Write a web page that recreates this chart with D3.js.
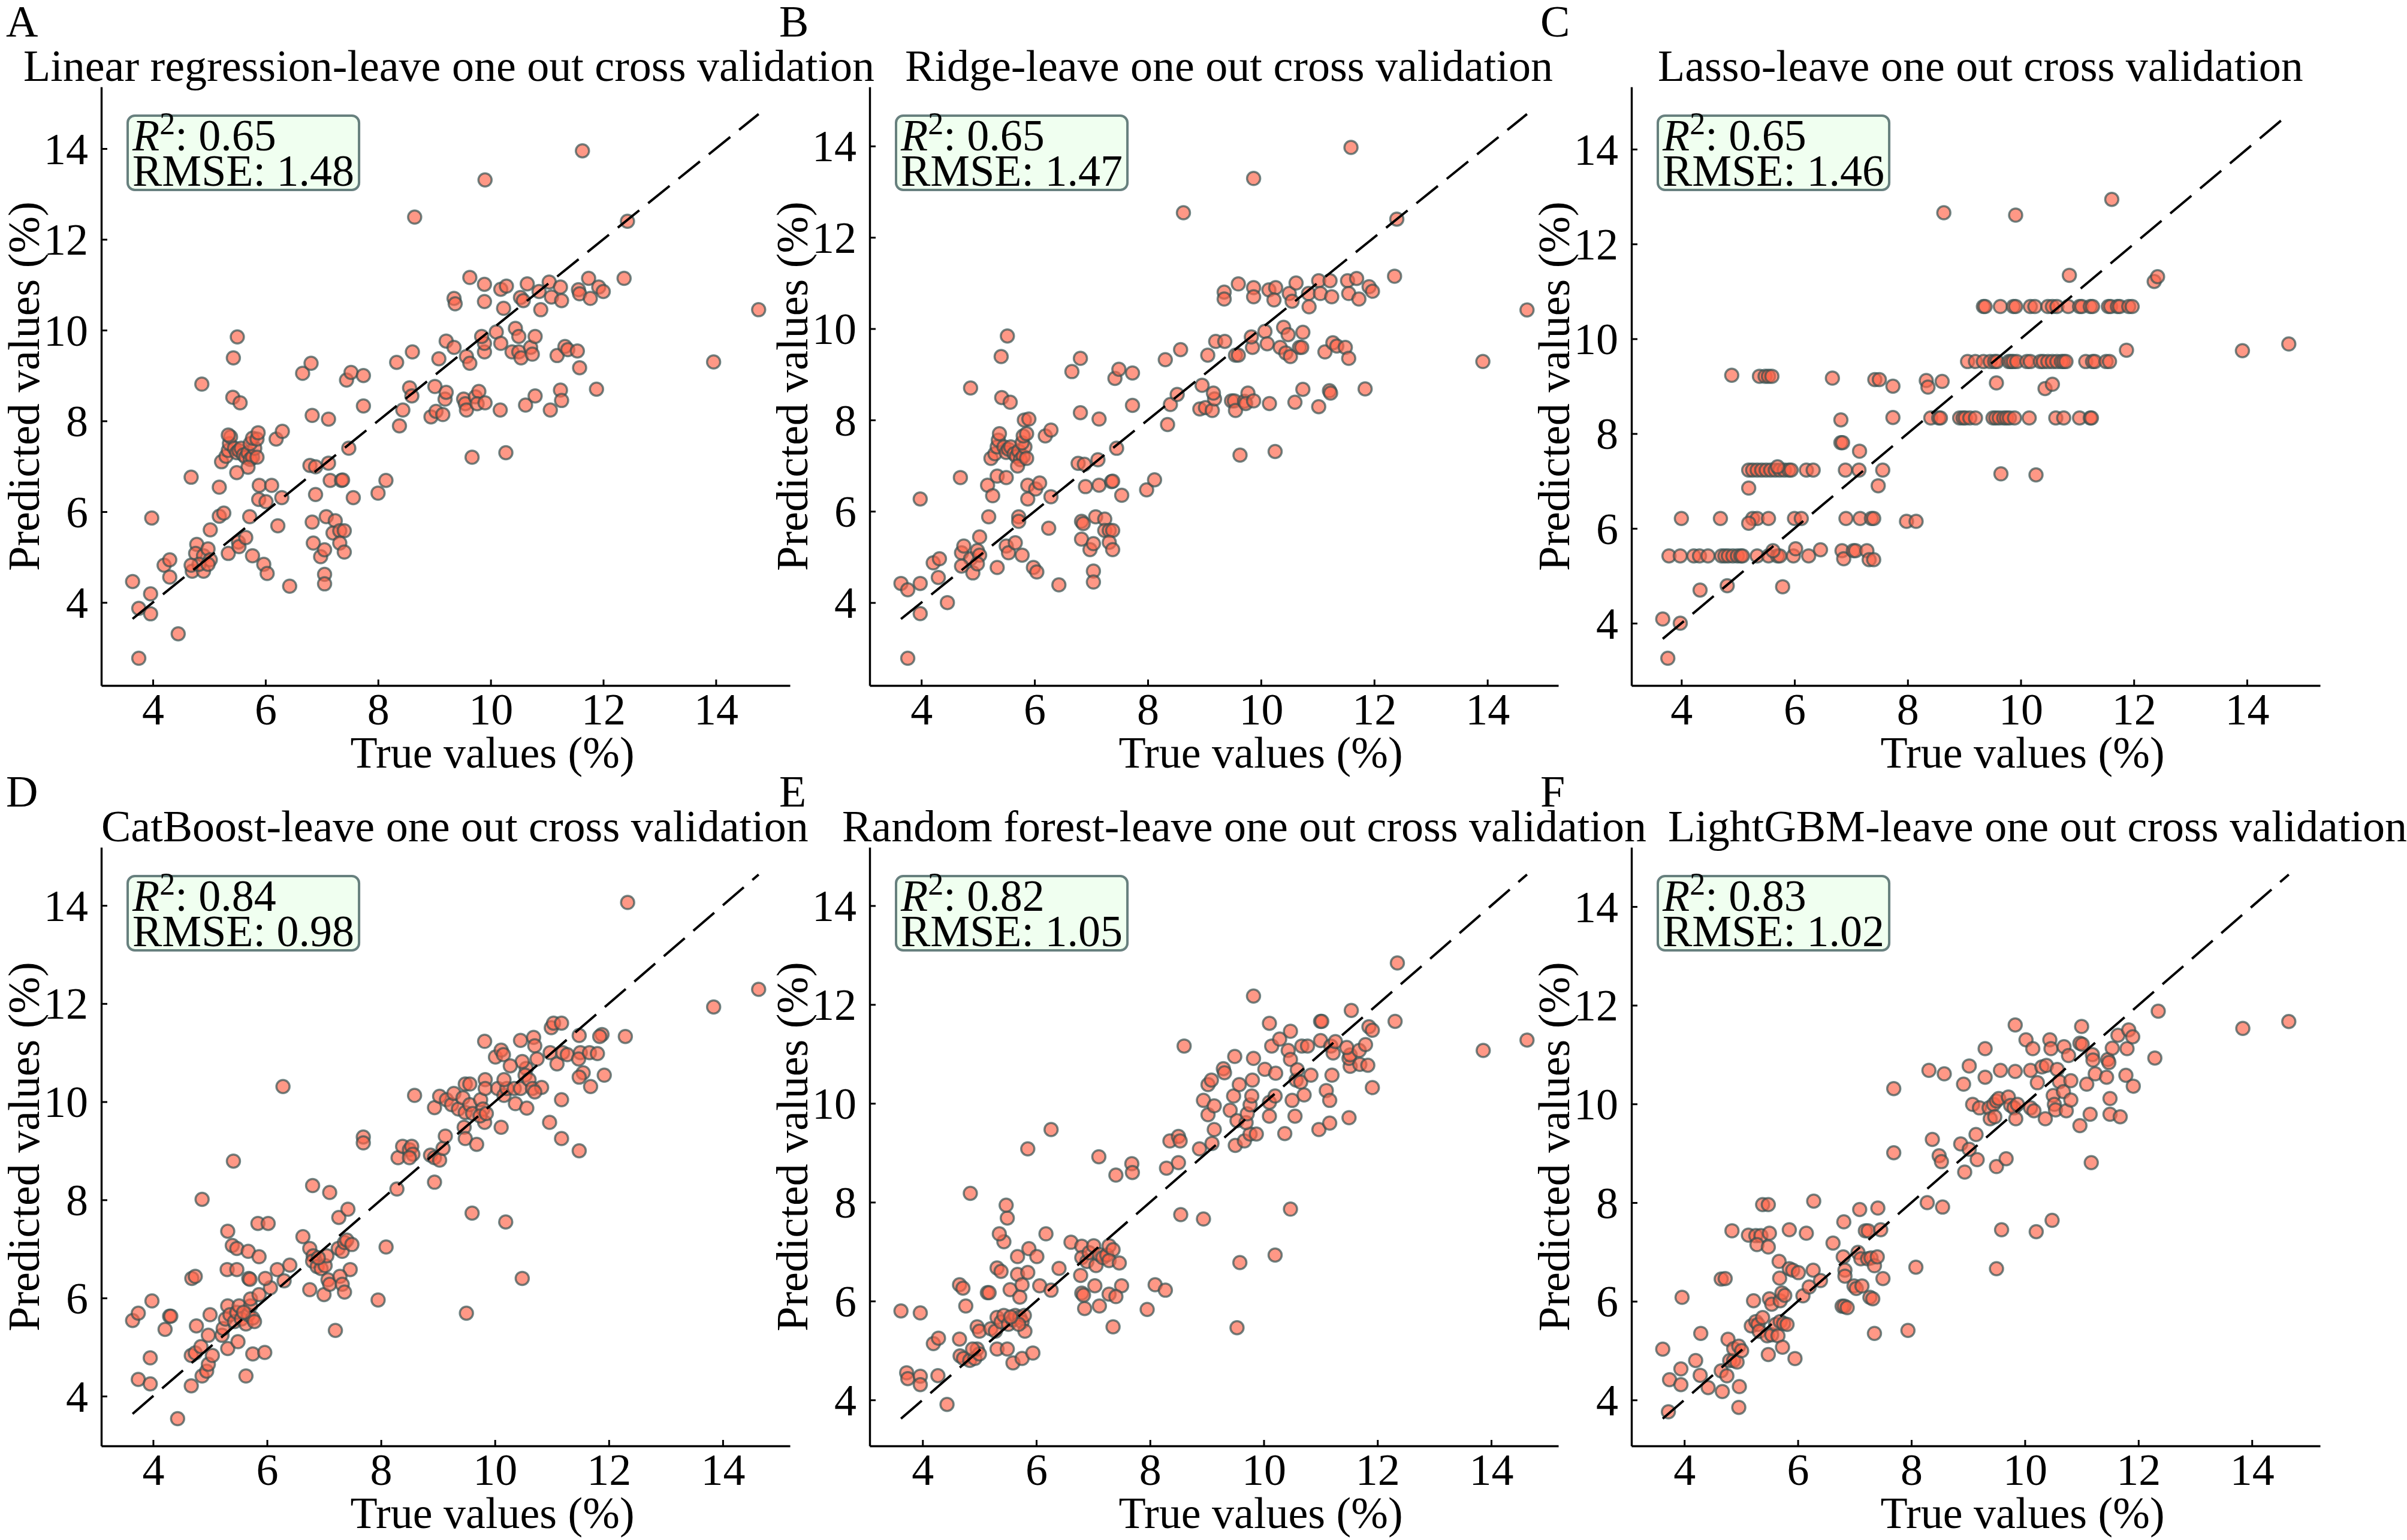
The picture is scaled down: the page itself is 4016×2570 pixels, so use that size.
<!DOCTYPE html>
<html>
<head>
<meta charset="utf-8">
<script src="https://cdn.jsdelivr.net/npm/d3@7"></script>
<style>
  body { margin: 0; background: #fff; }
  svg { display: block; }
</style>
</head>
<body>
<div id="chart"></div>
<script>
// [true value, predicted value] pairs
const linearPts = [
  [3.64,4.46],[3.75,3.87],[3.75,2.77],[3.96,4.19],[3.96,3.75],[3.98,5.86],[4.20,4.82],[4.30,4.94],[4.30,4.56],[4.45,3.31],[4.68,6.76],[4.70,4.69],
  [4.78,5.28],[4.76,5.08],[4.90,5.03],[4.98,5.18],[5.02,4.94],[4.90,4.69],[4.82,4.84],[4.98,4.84],[4.68,4.82],
  [4.87,8.81],[5.02,5.60],[5.18,5.90],[5.26,5.97],[5.18,6.54],[5.34,5.08],
  [5.22,7.10],[5.30,7.22],[5.34,7.35],[5.36,7.50],[5.38,7.65],[5.45,7.40],[5.49,7.30],[5.53,7.35],[5.57,7.40],[5.61,7.25],[5.65,7.20],[5.69,7.30],
  [5.73,7.15],[5.77,7.20],[5.81,7.40],[5.73,7.50],[5.77,7.62],[5.85,7.60],[5.69,6.98],[5.85,7.20],[5.34,7.69],[5.87,7.74],
  [5.42,8.52],[5.43,9.39],[5.50,9.85],[5.55,8.40],[5.49,6.86],[5.52,5.33],[5.53,5.23],[5.65,5.43],[5.72,5.89],[5.77,5.03],[5.89,6.58],[5.88,6.27],
  [5.97,4.84],[6.03,4.64],[6.01,6.22],[6.11,6.58],[6.19,7.60],[6.29,6.31],[6.30,7.77],[6.22,5.69],[6.43,4.36],
  [6.66,9.05],[6.81,9.27],[6.79,7.02],[6.83,8.12],[6.89,6.99],[6.89,6.38],[6.83,5.77],[6.85,5.31],[6.98,5.01],[7.05,5.16],[7.05,4.62],[7.05,4.41],
  [7.08,5.89],[7.12,8.04],[7.12,7.07],[7.15,6.69],[7.24,5.80],[7.20,5.53],[7.32,5.58],[7.35,6.69],[7.37,6.70],[7.40,5.58],[7.32,5.31],[7.40,5.11],
  [7.44,8.90],[7.52,9.07],[7.48,7.40],[7.56,6.31],[7.74,9.00],[7.74,8.33],
  [8.00,6.41],[8.14,6.69],[8.33,9.29],[8.38,7.89],[8.44,8.24],[8.56,8.73],[8.60,8.55],[8.61,9.52],[8.65,12.49],
  [9.01,8.76],[8.94,8.09],[9.03,8.21],[9.08,9.37],[9.15,8.14],[9.19,8.48],[9.21,8.63],[9.21,9.76],[9.35,9.62],[9.35,10.70],[9.37,10.58],
  [9.52,8.48],[9.55,8.38],[9.57,8.24],[9.57,9.42],[9.63,9.27],[9.63,11.16],[9.67,7.20],[9.73,8.53],[9.79,8.65],[9.76,8.38],[9.90,8.40],
  [9.90,13.31],[9.89,9.52],[9.89,9.71],[9.84,9.86],[9.89,11.01],[9.89,10.63],
  [10.10,9.96],[10.18,9.71],[10.17,8.24],[10.18,10.90],[10.28,10.97],[10.23,10.48],[10.27,7.30],[10.38,9.52],[10.44,10.04],[10.50,9.86],
  [10.50,9.52],[10.54,9.39],[10.53,10.72],[10.58,10.65],[10.62,8.35],[10.65,11.02],[10.71,9.62],[10.79,9.86],[10.74,9.47],[10.79,8.55],
  [10.86,10.85],[10.89,10.45],
  [11.04,11.06],[11.08,10.73],[11.06,8.24],[11.18,9.44],[11.24,10.95],[11.26,10.65],[11.24,8.68],[11.26,8.45],[11.32,9.64],[11.37,9.57],
  [11.56,10.89],[11.58,10.80],[11.54,9.54],[11.58,9.17],[11.63,13.95],[11.74,11.14],[11.77,10.70],[11.88,8.70],[11.92,10.95],[12.00,10.85],
  [12.37,11.14],[12.43,12.40],[13.96,9.30],[14.76,10.45]
];

const ridgePts = [
  [3.64,4.42],[3.76,4.28],[3.76,2.78],[3.98,4.42],[3.98,3.76],[3.98,6.27],[4.21,4.87],[4.32,4.96],[4.30,4.55],[4.46,4.00],[4.69,6.74],[4.87,8.70],
  [4.71,5.09],[4.75,5.24],[4.87,4.96],[4.99,5.14],[5.03,5.04],[4.91,4.65],[4.71,4.80],[4.99,4.85],
  [5.03,5.44],[5.19,5.88],[5.17,6.57],[5.26,6.34],[5.34,4.77],
  [5.23,7.16],[5.30,7.26],[5.34,7.41],[5.36,7.56],[5.38,7.70],[5.46,7.41],[5.50,7.29],[5.54,7.36],[5.58,7.41],[5.64,7.26],[5.68,7.20],[5.72,7.32],
  [5.75,7.13],[5.80,7.20],[5.83,7.41],[5.78,7.50],[5.80,7.65],[5.86,7.70],[5.70,6.99],[5.86,7.16],
  [5.42,8.49],[5.41,9.39],[5.52,9.84],[5.57,8.39],[5.34,6.77],[5.50,6.74],[5.50,5.24],[5.54,5.09],[5.66,5.31],[5.72,5.88],[5.72,5.78],[5.78,5.04],
  [5.82,8.00],[5.90,8.02],[5.88,6.57],[5.88,6.27],[5.98,4.77],[6.04,4.67],[6.02,6.49],[6.09,6.62],[6.19,7.65],[6.29,6.32],[6.29,7.78],[6.25,5.63],[6.43,4.39],
  [6.66,9.06],[6.81,9.35],[6.77,7.05],[6.81,8.16],[6.88,7.03],[6.90,6.54],[6.83,5.78],[6.86,5.73],[6.83,5.39],[6.98,5.16],[7.04,5.29],[7.04,4.69],
  [7.04,4.45],[7.08,5.88],[7.14,8.02],[7.12,7.13],[7.14,6.57],[7.24,5.83],[7.24,5.58],[7.32,5.58],[7.36,6.65],[7.38,6.66],[7.38,5.58],[7.32,5.32],
  [7.38,5.16],[7.42,8.91],[7.49,9.11],[7.45,7.38],[7.54,6.35],[7.73,9.03],[7.73,8.32],
  [7.98,6.47],[8.12,6.69],[8.31,9.32],[8.35,7.90],[8.40,8.34],[8.52,8.56],[8.58,9.54],[8.63,12.54],
  [8.96,8.76],[8.92,8.24],[9.02,8.27],[9.06,9.42],[9.14,8.21],[9.18,8.46],[9.16,8.59],[9.20,9.72],[9.36,9.72],[9.35,10.80],[9.35,10.65],
  [9.48,8.42],[9.53,8.42],[9.55,8.21],[9.55,9.42],[9.60,9.42],[9.60,10.98],[9.63,7.23],[9.71,8.41],[9.77,8.59],[9.73,8.36],[9.87,8.42],
  [9.87,13.29],[9.85,9.59],[9.83,9.82],[9.87,10.90],[9.87,10.70],
  [10.07,9.94],[10.11,9.67],[10.15,8.36],[10.14,10.85],[10.26,10.90],[10.23,10.63],[10.25,7.31],[10.34,9.59],[10.40,10.03],[10.48,9.87],
  [10.44,9.47],[10.52,9.39],[10.50,10.77],[10.55,10.60],[10.60,8.39],[10.62,11.00],[10.68,9.59],[10.74,9.92],[10.72,9.59],[10.74,8.67],
  [10.84,10.77],[10.85,10.48],
  [11.02,11.05],[11.05,10.77],[11.02,8.29],[11.13,9.49],[11.22,11.05],[11.25,10.70],[11.21,8.64],[11.23,8.59],[11.27,9.69],[11.34,9.62],
  [11.53,11.05],[11.55,10.77],[11.49,9.59],[11.55,9.35],[11.59,13.97],[11.69,11.10],[11.73,10.65],[11.84,8.68],[11.91,10.92],[11.97,10.82],
  [12.36,11.15],[12.40,12.40],[13.92,9.28],[14.70,10.41]
];

const lassoPts = [
  [3.78,5.42],[3.98,5.42],[4.22,5.42],[4.32,5.42],[4.47,5.42],[4.71,5.42],[4.77,5.42],[4.83,5.42],[4.91,5.42],[4.99,5.42],[5.05,5.42],[5.08,5.42],
  [5.34,5.42],[5.54,5.42],[5.70,5.42],[5.74,5.42],[5.98,5.42],[6.25,5.42],
  [5.62,5.53],[6.02,5.57],[6.46,5.55],[6.84,5.53],[6.87,5.36],[7.04,5.53],[7.08,5.53],[7.28,5.53],[7.32,5.34],[7.40,5.34],
  [4.00,6.21],[4.69,6.21],[5.26,6.21],[5.34,6.21],[5.54,6.21],[6.00,6.21],[6.12,6.21],[6.91,6.21],[7.16,6.21],[7.36,6.21],[7.40,6.21],
  [7.98,6.15],[8.15,6.15],[5.19,6.11],
  [5.19,7.23],[5.26,7.23],[5.34,7.23],[5.42,7.23],[5.50,7.23],[5.58,7.23],[5.66,7.23],[5.74,7.23],[5.82,7.23],[5.90,7.23],[5.94,7.23],
  [6.21,7.23],[6.33,7.23],[6.90,7.23],[7.14,7.23],[7.56,7.23],[5.70,7.30],
  [3.67,4.09],[3.98,4.00],[3.76,3.26],[4.33,4.70],[4.81,4.79],[5.79,4.77],[4.89,9.23],[5.38,9.21],[5.48,9.21],[5.54,9.21],[5.60,9.21],
  [5.19,6.85],[6.67,9.17],[6.82,8.29],[6.82,7.81],[6.85,7.81],[7.15,7.63],[7.48,6.90],[7.42,9.14],[7.50,9.14],[7.74,9.00],[7.74,8.34],
  [8.33,9.12],[8.36,8.98],[8.61,9.10],
  [8.41,8.33],[8.55,8.33],[8.58,8.33],[8.92,8.33],[8.98,8.33],[9.02,8.33],[9.10,8.33],[9.20,8.33],[9.51,8.33],[9.56,8.33],[9.62,8.33],
  [9.70,8.33],[9.75,8.33],[9.80,8.33],[9.89,8.33],[10.15,8.33],[10.62,8.33],[10.76,8.33],[11.04,8.33],[11.23,8.33],[11.25,8.33],
  [9.06,9.52],[9.20,9.52],[9.34,9.52],[9.46,9.52],[9.54,9.52],[9.58,9.52],[9.79,9.52],[9.83,9.52],[9.87,9.52],[9.93,9.52],[10.11,9.52],
  [10.17,9.52],[10.35,9.52],[10.40,9.52],[10.48,9.52],[10.56,9.52],[10.64,9.52],[10.72,9.52],[10.76,9.52],[10.80,9.52],[11.15,9.52],
  [11.27,9.52],[11.31,9.52],[11.51,9.52],[11.57,9.52],
  [9.34,10.68],[9.37,10.68],[9.64,10.68],[9.87,10.68],[9.91,10.68],[10.17,10.68],[10.25,10.68],[10.48,10.68],[10.56,10.68],[10.64,10.68],
  [10.84,10.68],[11.04,10.68],[11.08,10.68],[11.23,10.68],[11.27,10.68],[11.55,10.68],[11.59,10.68],[11.71,10.68],[11.75,10.68],
  [11.91,10.68],[11.97,10.68],
  [9.57,9.07],[10.43,8.95],[10.56,9.04],[9.65,7.15],[10.27,7.13],[8.64,12.66],[9.91,12.61],[11.61,12.94],[10.86,11.34],[12.36,11.21],
  [12.42,11.31],[11.87,9.76],[13.92,9.75],[14.74,9.89]
];

const catboostPts = [
  [3.64,5.54],[3.74,5.69],[3.74,4.34],[3.95,4.78],[3.98,5.94],[3.95,4.25],[4.21,5.36],[4.29,5.63],[4.31,5.63],[4.43,3.54],[4.67,4.21],
  [4.67,4.83],[4.74,4.88],[4.68,6.40],[4.74,6.44],[4.76,5.43],[4.86,8.01],
  [4.86,4.41],[4.94,4.51],[4.97,4.65],[5.04,4.83],[4.84,5.01],[4.97,5.24],[5.00,5.66],
  [5.21,5.24],[5.23,5.38],[5.27,5.57],[5.31,5.84],[5.35,5.66],[5.43,5.52],[5.47,5.71],[5.51,5.84],[5.55,5.57],[5.63,5.47],[5.67,5.66],
  [5.71,5.84],[5.75,5.59],[5.78,5.52],[5.59,5.71],[5.71,5.98],
  [5.31,4.97],[5.49,5.11],[5.63,4.41],[5.75,4.86],[5.96,4.89],[5.41,8.79],[5.31,7.36],[5.39,7.07],[5.47,7.01],[5.30,6.58],[5.47,6.58],
  [5.67,6.95],[5.86,6.84],[5.68,6.40],[5.70,6.38],[5.84,7.52],[6.02,7.52],[5.86,6.07],[6.06,6.21],[5.97,6.40],[6.18,6.58],[6.30,6.35],
  [6.40,6.67],[6.28,10.31],[6.63,7.25],[6.80,8.29],[6.75,7.01],[6.81,6.86],
  [6.80,6.75],[6.88,6.64],[6.95,6.60],[7.02,6.66],[7.05,6.86],[6.90,6.82],
  [6.75,6.17],[7.00,6.07],[7.07,6.37],[7.10,6.28],[7.10,8.15],[7.26,7.64],[7.42,7.81],
  [7.25,7.01],[7.32,6.95],[7.36,7.13],[7.40,7.18],[7.49,7.09],[7.46,6.58],[7.28,6.44],[7.32,6.28],[7.36,6.12],[7.20,5.34],
  [7.69,9.28],[7.69,9.16],[7.95,5.96],[8.09,7.04],[8.28,8.22],
  [8.30,8.86],[8.38,9.09],[8.50,9.02],[8.54,9.09],[8.56,8.93],[8.50,8.86],[8.59,10.13],
  [8.87,8.91],[8.94,8.86],[9.03,8.81],[8.94,8.36],[9.09,9.05],[9.13,9.30],
  [8.94,9.88],[9.03,10.11],[9.15,10.04],[9.24,9.94],[9.28,10.17],[9.36,9.85],[9.44,10.08],[9.48,9.78],[9.56,9.94],[9.61,9.76],
  [9.48,10.36],[9.56,10.36],[9.46,9.48],[9.48,9.25],[9.68,9.13],[9.60,7.73],[9.50,5.69],
  [9.75,10.04],[9.79,9.85],[9.82,9.58],[9.83,10.45],[9.83,10.27],[9.82,11.23],[9.74,9.71],[9.85,9.76],
  [10.11,9.48],[10.01,10.91],[10.11,11.05],[10.15,10.96],[10.05,10.27],[10.16,10.13],[10.21,10.27],[10.34,10.27],[10.16,10.45],
  [10.36,9.96],[10.56,9.87],[10.45,10.27],[10.55,10.68],[10.48,10.82],[10.53,10.54],[10.19,7.55],[10.48,6.40],
  [10.45,11.25],[10.68,11.31],[10.70,11.14],[10.27,10.73],[10.60,10.45],[10.66,10.27],[10.74,10.87],[10.82,10.29],[10.70,10.20],
  [10.96,9.58],[10.97,11.00],[10.99,11.51],[11.03,11.60],[11.17,11.60],[11.09,10.77],[11.17,10.04],[11.17,9.25],[11.19,11.00],[11.27,10.96],
  [11.48,11.35],[11.50,11.00],[11.47,10.87],[11.55,10.59],[11.48,10.50],[11.48,9.00],[11.68,10.31],
  [11.66,11.00],[11.80,10.98],[11.88,11.37],[11.84,11.33],[11.92,10.54],[12.29,11.33],[12.33,14.06],[13.84,11.93],[14.63,12.29]
];

const randomForestPts = [
  [3.62,5.80],[3.96,5.76],[3.72,4.55],[3.74,4.43],[3.96,4.48],[3.96,4.31],[4.27,4.49],[4.43,3.91],[4.19,5.14],[4.28,5.25],[4.65,5.23],
  [4.66,4.89],[4.72,4.84],[4.83,4.80],[4.92,4.84],[4.96,5.03],[5.00,4.93],[4.88,5.03],
  [4.65,6.33],[4.71,6.26],[4.76,5.90],[4.84,8.18],[4.96,5.48],[5.00,5.39],[5.14,6.17],[5.17,6.17],
  [5.20,5.44],[5.28,5.39],[5.31,5.67],[5.38,5.58],[5.43,5.71],[5.51,5.53],[5.59,5.62],[5.63,5.71],[5.71,5.67],[5.75,5.58],[5.79,5.71],
  [5.80,5.39],[5.69,5.53],[5.55,5.68],
  [5.31,5.03],[5.49,5.03],[5.59,4.75],[5.75,4.84],[5.94,4.95],
  [5.31,6.67],[5.38,6.60],[5.43,7.20],[5.35,7.36],[5.49,7.68],[5.47,7.94],[5.54,6.23],
  [5.67,6.90],[5.67,6.54],[5.75,6.33],[5.71,6.08],[5.85,6.58],[5.87,7.06],[6.01,6.90],[5.85,9.08],
  [6.06,6.31],[6.17,7.36],[6.26,6.22],[6.40,6.66],[6.26,9.47],
  [6.61,7.19],[6.80,7.11],[6.80,6.88],[6.78,6.52],[6.80,6.16],[6.85,5.85],[6.83,6.12],[6.89,6.80],[6.93,6.98],[7.01,7.12],[7.03,6.31],
  [7.05,6.72],[7.11,6.94],[7.17,6.88],[7.24,6.93],[7.28,7.12],[7.35,7.04],[7.28,6.82],[7.46,6.77],[7.50,6.31],[7.28,6.14],[7.40,6.09],[7.11,5.90],
  [7.35,5.48],[7.10,8.92],[7.40,8.55],[7.68,8.78],[7.69,8.60],[7.95,5.83],[8.09,6.33],[8.27,6.22],
  [8.29,8.69],[8.35,9.24],[8.50,9.33],[8.53,9.24],[8.50,8.80],[8.54,7.75],[8.60,11.16],[8.87,9.08],[8.94,7.66],
  [8.94,10.06],[9.02,10.38],[9.08,10.47],[9.02,9.77],[9.13,9.95],[9.13,9.47],[9.09,9.19],[9.29,10.70],[9.31,10.62],
  [9.41,9.86],[9.49,10.95],[9.47,10.15],[9.53,9.65],[9.57,10.38],[9.50,9.15],[9.66,9.24],[9.76,9.38],[9.69,9.61],[9.53,5.46],[9.58,6.78],
  [9.71,9.79],[9.76,9.97],[9.79,10.15],[9.80,10.47],[9.82,10.91],[9.82,12.17],[9.87,9.38],
  [10.02,10.69],[10.10,11.62],[10.14,11.16],[10.10,9.74],[10.10,10.02],[10.20,10.15],[10.21,10.61],[10.20,6.93],
  [10.28,11.30],[10.47,11.46],[10.43,11.07],[10.47,10.89],[10.50,10.06],[10.55,9.74],[10.37,9.39],[10.47,7.86],
  [10.57,10.47],[10.59,10.68],[10.67,11.16],[10.65,10.43],[10.71,10.17],[10.77,11.16],[10.83,10.57],
  [10.97,9.47],[11.00,11.27],[11.00,11.66],[11.02,11.66],[11.10,10.26],[11.16,10.06],[11.16,9.60],[11.18,11.16],[11.22,11.02],[11.26,11.25],
  [11.20,10.57],[11.50,9.71],[11.52,10.75],[11.50,10.91],[11.52,10.98],[11.54,11.88],[11.46,11.13],[11.68,11.07],[11.69,10.79],
  [11.79,11.19],[11.83,10.77],[11.85,11.55],[11.91,11.48],[11.91,10.32],[12.31,11.66],[12.35,12.84],[13.86,11.07],[14.63,11.28]
];

const lightgbmPts = [
  [3.62,5.03],[3.72,3.76],[3.74,4.41],[3.94,4.63],[3.94,4.31],[3.96,6.08],[4.20,4.80],[4.28,4.50],[4.29,5.35],[4.42,4.25],[4.67,4.17],
  [4.65,4.59],[4.75,4.49],[4.77,5.23],[4.80,4.80],[4.87,4.80],[4.93,4.77],[4.87,5.04],[4.96,5.09],[5.01,5.00],[4.97,4.27],[4.96,3.85],
  [4.65,6.45],[4.72,6.46],[4.84,7.43],
  [5.13,7.34],[5.26,7.33],[5.35,7.33],[5.50,7.38],[5.28,7.15],[5.48,7.10],[5.38,7.96],[5.48,7.96],[5.22,6.01],
  [5.18,5.50],[5.26,5.59],[5.30,5.53],[5.32,5.39],[5.38,5.67],[5.46,5.30],[5.54,5.32],[5.61,5.53],[5.65,5.30],[5.69,5.59],[5.75,5.55],[5.81,5.53],
  [5.50,6.05],[5.54,5.94],[5.69,6.01],[5.72,6.17],[5.77,6.12],[5.48,4.92],[5.73,5.07],[5.95,4.84],
  [5.67,6.81],[5.68,6.47],[5.85,6.66],[5.91,6.63],[6.01,6.58],[6.09,6.11],[6.20,6.29],[6.27,6.63],[6.40,6.42],
  [5.85,7.45],[6.15,7.38],[6.28,8.03],[6.62,7.18],[6.81,7.61],
  [6.80,6.90],[6.83,6.63],[6.83,6.51],[6.78,5.90],[6.82,5.90],[6.87,5.87],[6.99,6.31],[7.03,6.26],[7.13,6.31],
  [7.06,6.99],[7.11,6.86],[7.23,6.86],[7.29,6.88],[7.35,6.72],[7.40,6.90],[7.09,7.86],[7.41,7.89],[7.19,7.43],[7.24,7.43],[7.46,7.45],
  [7.27,6.08],[7.32,6.05],[7.50,6.46],[7.35,5.35],[7.69,10.31],[7.69,9.01],[7.94,5.41],[8.08,6.69],
  [8.28,8.00],[8.31,10.68],[8.37,9.28],[8.49,8.95],[8.53,8.83],[8.55,7.91],[8.58,10.61],
  [8.87,9.19],[8.94,8.62],[9.02,9.08],[8.92,10.40],[9.02,10.77],[9.08,9.99],[9.14,9.38],[9.16,8.87],[9.20,9.92],[9.30,11.12],[9.30,10.54],
  [9.37,9.92],[9.39,9.70],[9.45,9.99],[9.50,10.06],[9.54,10.11],[9.47,9.74],[9.57,10.68],[9.50,8.73],[9.50,6.66],[9.59,7.45],[9.67,8.89],
  [9.71,10.14],[9.75,9.97],[9.81,9.92],[9.83,10.66],[9.84,9.70],[9.87,9.99],[9.83,11.60],
  [10.02,11.30],[10.14,11.12],[10.10,10.68],[10.10,9.92],[10.16,9.86],[10.22,10.43],[10.20,7.41],
  [10.30,10.75],[10.38,10.78],[10.36,9.70],[10.44,11.30],[10.46,11.12],[10.50,10.17],[10.52,9.99],[10.54,9.88],[10.48,7.64],
  [10.57,10.70],[10.61,10.45],[10.69,11.16],[10.68,10.25],[10.73,9.86],[10.77,10.98],[10.81,10.47],[10.81,10.08],
  [10.97,9.56],[11.00,11.57],[10.97,11.23],[11.01,11.21],[11.09,10.40],[11.15,9.79],[11.17,8.81],[11.19,11.00],[11.20,10.89],[11.24,10.61],
  [11.44,10.54],[11.46,10.90],[11.48,10.84],[11.54,11.13],[11.50,10.11],[11.50,9.79],[11.64,11.39],[11.68,9.74],
  [11.78,10.58],[11.80,11.12],[11.83,11.50],[11.90,11.36],[11.91,10.36],[12.29,10.93],[12.35,11.88],[13.84,11.53],[14.65,11.67]
];

const panelLetters = ['A', 'B', 'C', 'D', 'E', 'F'];
const modelNames = ['Linear regression', 'Ridge', 'Lasso', 'CatBoost', 'Random forest', 'LightGBM'];
const r2Values = ['0.65', '0.65', '0.65', '0.84', '0.82', '0.83'];
const rmseValues = ['1.48', '1.47', '1.46', '0.98', '1.05', '1.02'];
const tickValues = [4, 6, 8, 10, 12, 14];
const titleSuffix = '-leave one out cross validation';
const xLabel = 'True values (%)';
const yLabel = 'Predicted values (%)';

const panelPoints = [linearPts, ridgePts, lassoPts, catboostPts, randomForestPts, lightgbmPts];

// layout (pixels)
const W = 4016, H = 2570;
const colLeft = [169, 1451, 2722];
const rowTop = [145, 1414];
const letterX = [10, 1300, 2570];
const letterY = [61, 1346];
const titleX = [39, 1510, 2766, 169, 1405, 2783];   // left edge of each title, as placed in the original
const plotW = 1149, plotH = 999;
const xLabelShift = 78;
const FONT = '"Liberation Serif", "Times New Roman", Times, serif';
const FS = 74;

const svg = d3.select('#chart').append('svg')
  .attr('width', W)
  .attr('height', H)
  .attr('viewBox', `0 0 ${W} ${H}`)
  .attr('font-family', FONT);

svg.append('rect').attr('width', W).attr('height', H).attr('fill', '#fff');

// matplotlib-like auto limits: data range plus 5% on each side
function padded(lo, hi) {
  const r = hi - lo;
  return [lo - r * 0.05, hi + r * 0.05];
}

panelPoints.forEach(function(points, i) {
  const col = i % 3, row = Math.floor(i / 3);
  const left = colLeft[col], top = rowTop[row];

  const xExt = d3.extent(points, d => d[0]);
  const yExt = d3.extent(points.map(d => d[1]).concat(xExt));

  const x = d3.scaleLinear().domain(padded(xExt[0], xExt[1])).range([0, plotW]);
  const y = d3.scaleLinear().domain(padded(yExt[0], yExt[1])).range([plotH, 0]);

  svg.append('text')
    .attr('x', letterX[col])
    .attr('y', letterY[row])
    .attr('font-family', FONT)
    .attr('font-size', FS)
    .attr('fill', '#000')
    .text(panelLetters[i]);

  svg.append('text')
    .attr('x', titleX[i])
    .attr('y', top - 10)
    .attr('font-family', FONT)
    .attr('font-size', FS)
    .text(modelNames[i] + titleSuffix);

  const g = svg.append('g').attr('transform', 'translate(' + left + ',' + top + ')');

  // scatter first, diagonal on top
  g.append('g').selectAll('circle')
    .data(points)
    .enter().append('circle')
      .attr('cx', d => x(d[0]))
      .attr('cy', d => y(d[1]))
      .attr('r', 11)
      .attr('fill', '#ff6347')
      .attr('fill-opacity', 0.66)
      .attr('stroke', '#2f4f4f')
      .attr('stroke-opacity', 0.68)
      .attr('stroke-width', 3.5);

  const line = d3.line().x(d => x(d[0])).y(d => y(d[1]));
  g.append('path')
    .attr('d', line([[xExt[0], xExt[0]], [xExt[1], xExt[1]]]))
    .attr('fill', 'none')
    .attr('stroke', '#000')
    .attr('stroke-width', 4)
    .attr('stroke-dasharray', '46,19');

  // axes: inward ticks, only left and bottom spines
  const xAxis = g.append('g')
    .attr('transform', 'translate(0,' + plotH + ')')
    .call(d3.axisBottom(x).tickValues(tickValues).tickSizeInner(-10).tickSizeOuter(0).tickFormat(d3.format('d')));
  xAxis.attr('font-family', FONT).attr('font-size', FS);
  xAxis.select('.domain').attr('stroke-width', 3.4);
  xAxis.selectAll('.tick line').attr('stroke-width', 3);
  xAxis.selectAll('.tick text')
    .attr('y', 65).attr('dy', 0)
    .attr('fill', '#000')
    .attr('font-family', FONT);

  const yAxis = g.append('g')
    .call(d3.axisLeft(y).tickValues(tickValues).tickSizeInner(-10).tickSizeOuter(0).tickPadding(22).tickFormat(d3.format('d')));
  yAxis.attr('font-family', FONT).attr('font-size', FS);
  yAxis.select('.domain').attr('stroke-width', 3.4);
  yAxis.selectAll('.tick line').attr('stroke-width', 3);
  yAxis.selectAll('.tick text')
    .attr('dy', '0.34em')
    .attr('fill', '#000')
    .attr('font-family', FONT);

  g.append('text')
    .attr('x', plotW / 2 + xLabelShift)
    .attr('y', plotH + 137)
    .attr('text-anchor', 'middle')
    .attr('font-family', FONT)
    .attr('font-size', FS)
    .text(xLabel);

  g.append('text')
    .attr('transform', 'translate(-104,' + (plotH / 2) + ') rotate(-90)')
    .attr('text-anchor', 'middle')
    .attr('font-family', FONT)
    .attr('font-size', FS)
    .text(yLabel);

  // stats box
  const box = g.append('g').attr('transform', 'translate(44,48)');
  const rect = box.append('rect')
    .attr('rx', 12).attr('ry', 12)
    .attr('height', 124)
    .attr('fill', '#f0fff0')
    .attr('stroke', '#2f4f4f')
    .attr('stroke-opacity', 0.72)
    .attr('stroke-width', 4);

  const t1 = box.append('text').attr('x', 8).attr('y', 58)
    .attr('font-family', FONT).attr('font-size', FS);
  t1.append('tspan').attr('font-style', 'italic').text('R');
  t1.append('tspan').attr('font-size', 52).attr('dy', -27).text('2');
  t1.append('tspan').attr('dy', 27).text(': ' + r2Values[i]);

  const t2 = box.append('text').attr('x', 8).attr('y', 117)
    .attr('font-family', FONT).attr('font-size', FS)
    .text('RMSE: ' + rmseValues[i]);

  const tw = Math.max(t1.node().getComputedTextLength(), t2.node().getComputedTextLength());
  rect.attr('width', tw + 16);
});
</script>
</body>
</html>
